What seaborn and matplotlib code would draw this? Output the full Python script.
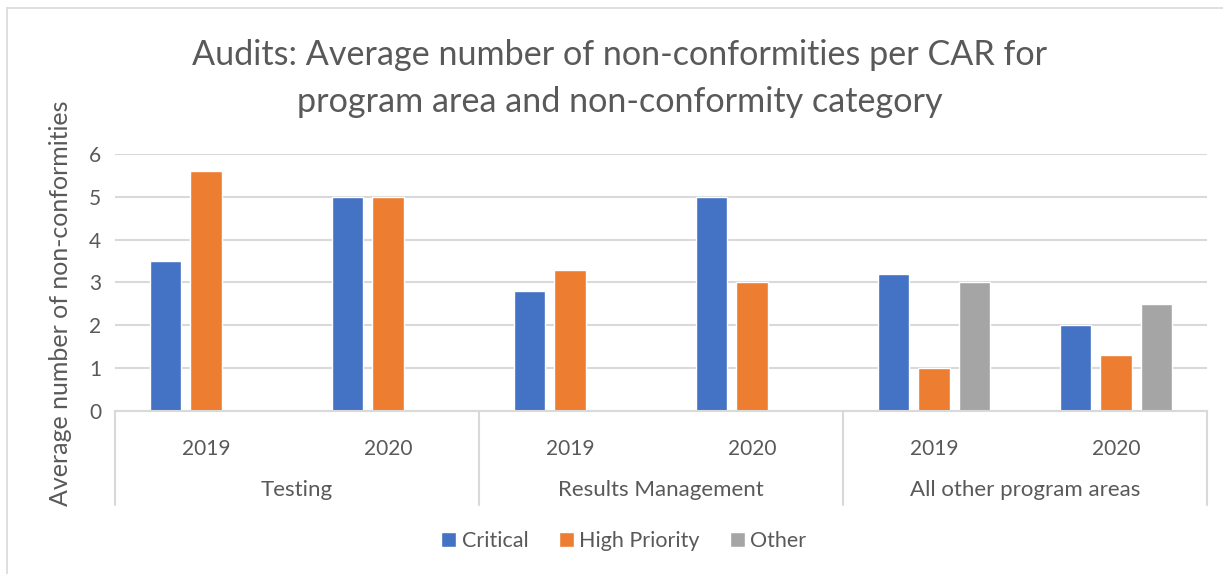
import numpy as np
import pandas as pd
import matplotlib
matplotlib.use("Agg")
import matplotlib.pyplot as plt
import matplotlib.transforms as mtransforms
import seaborn as sns

# chart values
areas = ["Testing", "Testing", "Results Management", "Results Management",
         "All other program areas", "All other program areas"]
years = ["2019", "2020", "2019", "2020", "2019", "2020"]
critical = [3.5, 5.0, 2.8, 5.0, 3.2, 2.0]
high_priority = [5.6, 5.0, 3.3, 3.0, 1.0, 1.3]
other = [np.nan, np.nan, np.nan, np.nan, 3.0, 2.5]
group_names = ["Testing", "Results Management", "All other program areas"]
series_names = ["Critical", "High Priority", "Other"]
colors = ["#4472C4", "#ED7D31", "#A5A5A5"]

slots = [f"{a} {y}" for a, y in zip(areas, years)]
rows = []
for name, vals in zip(series_names, [critical, high_priority, other]):
    for s, v in zip(slots, vals):
        if not np.isnan(v):
            rows.append({"slot": s, "series": name, "value": v})
df = pd.DataFrame(rows)

sns.set_style("white")
plt.rcParams["font.family"] = ["Lato", "DejaVu Sans"]
text_col = "#595959"
grid_col = "#D9D9D9"

fig = plt.figure(figsize=(12.23, 5.74), dpi=100)
ax = fig.add_axes([0.094, 0.284, 0.893, 0.448])

sns.barplot(data=df, x="slot", y="value", hue="series", order=slots,
            hue_order=series_names, palette=colors, width=0.667, gap=0.22,
            errorbar=None, ax=ax, saturation=1)

ax.set_xlim(-0.5, 5.5)
ax.set_ylim(0, 6)
ax.set_yticks(range(0, 7))
ax.yaxis.grid(True, color=grid_col, lw=1.5)
ax.set_axisbelow(True)
for sp in ["top", "right", "left"]:
    ax.spines[sp].set_visible(False)
ax.spines["bottom"].set_color(grid_col)
ax.spines["bottom"].set_linewidth(1.5)

ax.set_xticks(range(len(slots)))
ax.set_xticklabels(years)
ax.tick_params(axis="x", length=0, pad=20, labelsize=15, labelcolor=text_col)
ax.tick_params(axis="y", length=0, pad=10, labelsize=15, labelcolor=text_col)
ax.set_xlabel("")
ax.set_ylabel("Average number of non-conformities", fontsize=18,
              color=text_col)
ax.yaxis.set_label_coords(-0.039, 0.42)

# second level of the category axis
trans = mtransforms.blended_transform_factory(ax.transData, ax.transAxes)
for xb in [-0.5, 1.5, 3.5, 5.5]:
    ax.plot([xb, xb], [0, -0.366], transform=trans, color=grid_col,
            lw=1.5, clip_on=False)
for i, g in enumerate(group_names):
    ax.text(2 * i + 0.5, -0.307, g, transform=trans, ha="center",
            va="center", fontsize=16, color=text_col)

ax.set_title("Audits: Average number of non-conformities per CAR for\n"
             "program area and non-conformity category",
             fontsize=24.6, color=text_col, pad=30, linespacing=1.58,
             x=0.462)

sns.move_legend(ax, "center", bbox_to_anchor=(0.51, 0.058),
                bbox_transform=fig.transFigure, ncol=3, frameon=False,
                title=None, fontsize=15.5, handlelength=0.7,
                handleheight=0.7, columnspacing=1.4, handletextpad=0.25)
for t in ax.get_legend().get_texts():
    t.set_color(text_col)

# chart border
fig.add_artist(plt.Line2D([0.0057, 0.0057], [0, 0.986], color=grid_col, lw=1.2))
fig.add_artist(plt.Line2D([0.0057, 1], [0.986, 0.986], color=grid_col, lw=1.2))

fig.savefig("out.png", dpi=100)
